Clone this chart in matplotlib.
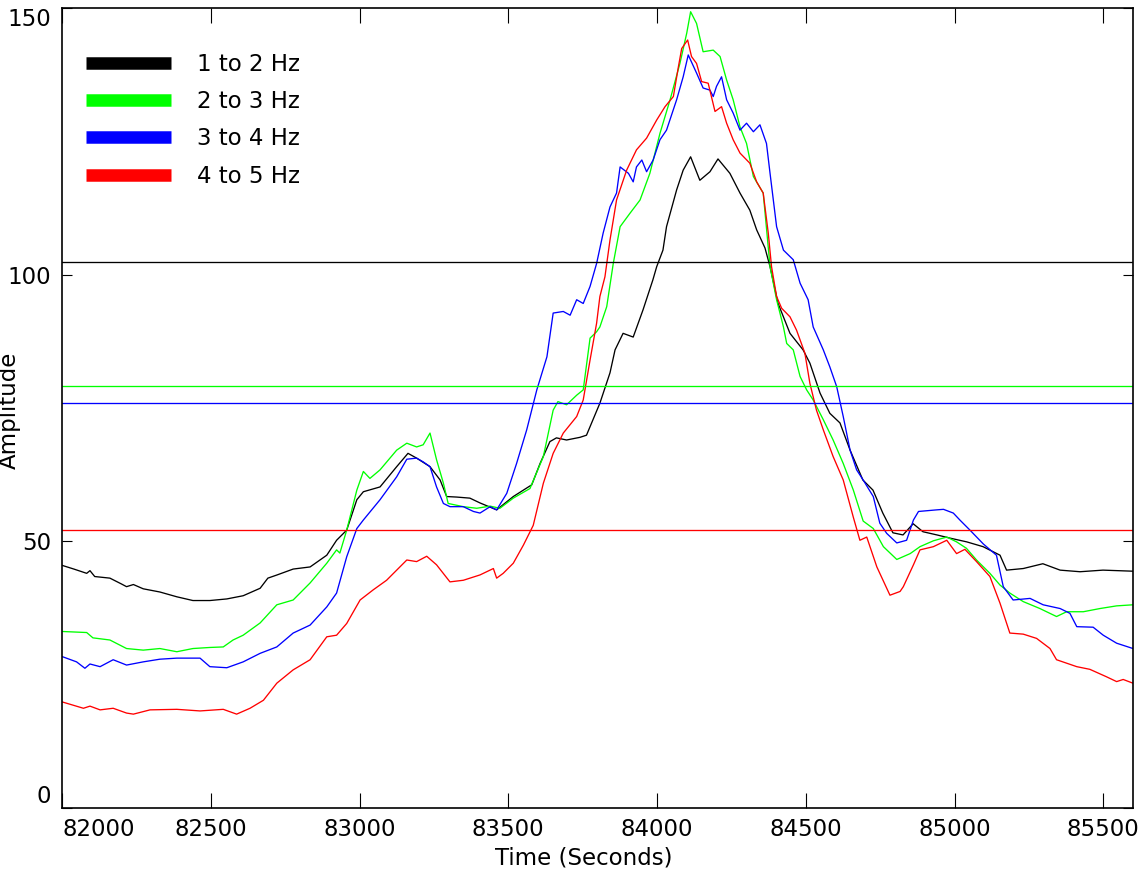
import matplotlib
matplotlib.use("Agg")
import matplotlib.pyplot as plt

# ---------------- data ----------------
t_12 = [82000, 82040, 82083, 82094, 82110, 82161, 82200, 82217, 82240, 82273, 82329, 82386, 82440, 82497,
        82554, 82609, 82666, 82692, 82723, 82777, 82834, 82890, 82923, 82957, 82991, 83013, 83069, 83125,
        83163, 83192, 83237, 83271, 83293, 83327, 83371, 83405, 83461, 83517, 83579, 83607, 83640, 83662,
        83696, 83741, 83763, 83808, 83842, 83859, 83886, 83920, 83953, 83986, 83999, 84020, 84032, 84066,
        84088, 84113, 84144, 84178, 84205, 84245, 84279, 84312, 84335, 84363, 84380, 84407, 84447, 84491,
        84514, 84548, 84581, 84615, 84649, 84692, 84726, 84759, 84793, 84827, 84861, 84894, 84941, 84985,
        85041, 85096, 85153, 85175, 85231, 85297, 85355, 85422, 85499, 85600]
a_12 = [45.5, 44.8, 44.0, 44.5, 43.4, 43.1, 42.0, 41.5, 41.9, 41.1, 40.5, 39.6, 38.9, 38.9,
        39.2, 39.8, 41.2, 43.1, 43.7, 44.8, 45.2, 47.4, 50.2, 52.1, 57.8, 59.3, 60.2, 64.0,
        66.5, 65.6, 64.0, 61.5, 58.4, 58.3, 58.1, 57.2, 55.9, 58.4, 60.6, 64.6, 68.7, 69.4,
        69.0, 69.5, 69.9, 75.9, 81.6, 85.9, 89.0, 88.3, 93.4, 99.0, 101.5, 104.6, 109.0, 115.9,
        119.6, 122.1, 117.7, 119.3, 121.7, 119.0, 115.3, 112.1, 108.4, 105.0, 101.5, 94.6, 89.0, 85.9,
        83.4, 77.8, 74.0, 72.2, 67.1, 61.5, 59.6, 55.3, 51.6, 51.2, 53.3, 51.8, 51.2, 50.6,
        49.9, 49.0, 47.4, 44.6, 44.9, 45.8, 44.6, 44.3, 44.6, 44.4]

t_23 = [82000, 82083, 82104, 82161, 82217, 82273, 82329, 82386, 82440, 82497, 82542, 82575, 82609, 82666,
        82722, 82777, 82834, 82890, 82923, 82934, 82957, 82991, 83013, 83035, 83069, 83125, 83159, 83192,
        83214, 83237, 83259, 83282, 83298, 83349, 83394, 83439, 83472, 83517, 83573, 83618, 83651, 83667,
        83696, 83730, 83752, 83775, 83797, 83808, 83831, 83853, 83876, 83909, 83943, 83976, 84010, 84044,
        84077, 84100, 84113, 84133, 84155, 84189, 84212, 84234, 84256, 84279, 84301, 84324, 84357, 84380,
        84402, 84425, 84436, 84458, 84481, 84503, 84525, 84559, 84592, 84626, 84660, 84693, 84727, 84761,
        84806, 84851, 84884, 84929, 84974, 85007, 85040, 85074, 85119, 85153, 85186, 85231, 85287, 85343,
        85377, 85433, 85489, 85545, 85600]
a_23 = [33.1, 32.9, 31.9, 31.5, 29.9, 29.6, 29.9, 29.3, 29.9, 30.1, 30.2, 31.5, 32.4, 34.7,
        38.1, 39.0, 42.2, 45.9, 48.4, 47.8, 52.1, 59.6, 63.1, 61.8, 63.4, 67.1, 68.4, 67.7,
        68.1, 70.3, 65.3, 60.9, 57.1, 56.5, 56.2, 56.6, 56.2, 58.1, 59.9, 65.9, 74.6, 76.2,
        75.6, 77.4, 78.4, 88.1, 89.3, 90.2, 94.0, 102.1, 109.0, 111.5, 114.0, 119.0, 126.5, 132.8,
        139.6, 145.3, 149.3, 147.1, 141.8, 142.1, 140.9, 136.5, 132.8, 127.7, 124.6, 118.4, 115.3, 101.5,
        95.3, 90.2, 87.1, 85.9, 80.9, 78.4, 76.5, 72.8, 69.0, 64.6, 59.6, 53.8, 52.4, 49.0,
        46.6, 47.7, 49.0, 50.1, 50.8, 49.9, 48.7, 46.5, 44.0, 41.8, 40.3, 38.7, 37.4, 35.9,
        36.8, 36.8, 37.4, 37.9, 38.1]

t_34 = [82000, 82049, 82077, 82094, 82128, 82172, 82217, 82273, 82329, 82386, 82464, 82497, 82554, 82609,
        82666, 82722, 82777, 82834, 82890, 82923, 82957, 82991, 83013, 83069, 83125, 83159, 83192, 83214,
        83237, 83259, 83282, 83304, 83349, 83383, 83405, 83439, 83461, 83495, 83528, 83562, 83596, 83630,
        83651, 83685, 83708, 83730, 83752, 83775, 83797, 83819, 83842, 83864, 83876, 83904, 83920, 83931,
        83949, 83965, 83987, 84010, 84032, 84066, 84088, 84105, 84133, 84155, 84178, 84189, 84200, 84217,
        84234, 84256, 84279, 84301, 84324, 84346, 84368, 84380, 84402, 84425, 84458, 84481, 84508, 84525,
        84559, 84581, 84604, 84626, 84649, 84671, 84693, 84727, 84749, 84772, 84806, 84839, 84862, 84879,
        84940, 84963, 84996, 85018, 85052, 85097, 85141, 85164, 85197, 85254, 85298, 85355, 85388, 85411,
        85466, 85500, 85545, 85600]
a_34 = [28.4, 27.4, 26.2, 27.0, 26.5, 27.8, 26.8, 27.4, 27.9, 28.1, 28.1, 26.5, 26.3, 27.4,
        29.0, 30.2, 32.8, 34.3, 37.7, 40.3, 47.1, 52.4, 54.0, 57.8, 62.1, 65.4, 65.6, 64.9,
        64.0, 60.2, 57.1, 56.5, 56.5, 55.6, 55.3, 56.5, 55.9, 59.0, 64.6, 70.9, 78.4, 84.6,
        92.8, 93.1, 92.4, 95.3, 94.6, 97.8, 102.1, 107.8, 112.7, 115.3, 120.2, 119.0, 117.4, 120.2,
        121.5, 119.3, 121.5, 125.3, 127.1, 132.8, 137.1, 141.2, 137.8, 135.0, 134.6, 133.4, 135.3, 137.1,
        132.8, 130.3, 127.1, 128.4, 126.8, 128.1, 124.6, 119.0, 109.0, 104.6, 102.8, 98.4, 95.3, 90.2,
        85.9, 82.7, 79.0, 73.4, 67.1, 63.4, 61.5, 58.4, 53.4, 51.5, 49.7, 50.2, 54.0, 55.6,
        55.9, 56.0, 55.3, 54.0, 52.1, 49.5, 47.4, 41.5, 39.0, 39.3, 38.1, 37.4, 36.5, 34.0,
        33.9, 32.4, 30.9, 29.9]

t_45 = [82000, 82072, 82094, 82128, 82172, 82217, 82240, 82296, 82386, 82464, 82542, 82587, 82632, 82677,
        82722, 82777, 82834, 82890, 82923, 82957, 83002, 83046, 83091, 83159, 83192, 83226, 83259, 83304,
        83349, 83405, 83450, 83461, 83483, 83517, 83551, 83584, 83618, 83651, 83685, 83730, 83752, 83775,
        83797, 83808, 83825, 83842, 83864, 83898, 83931, 83965, 83999, 84027, 84055, 84072, 84083, 84103,
        84116, 84133, 84150, 84172, 84195, 84217, 84234, 84256, 84279, 84312, 84335, 84357, 84374, 84385,
        84402, 84419, 84447, 84469, 84497, 84514, 84536, 84559, 84592, 84626, 84660, 84682, 84705, 84739,
        84783, 84817, 84828, 84862, 84884, 84929, 84974, 85007, 85035, 85074, 85119, 85153, 85186, 85231,
        85276, 85321, 85343, 85411, 85455, 85511, 85545, 85567, 85600]
a_45 = [19.9, 18.7, 19.1, 18.4, 18.7, 17.8, 17.6, 18.4, 18.5, 18.2, 18.5, 17.6, 18.7, 20.2,
        23.4, 25.9, 27.8, 32.1, 32.4, 34.6, 39.0, 40.9, 42.7, 46.5, 46.2, 47.2, 45.6, 42.4,
        42.7, 43.7, 44.9, 43.1, 44.0, 45.9, 49.3, 53.0, 60.9, 66.5, 70.3, 73.4, 76.5, 84.0,
        90.9, 95.9, 99.6, 106.5, 114.0, 119.6, 123.4, 125.6, 129.0, 131.5, 133.4, 139.0, 142.4, 144.0,
        140.9, 139.6, 136.2, 135.9, 130.6, 131.5, 128.4, 125.3, 122.8, 120.9, 117.4, 115.3, 107.8, 101.5,
        95.9, 93.7, 92.1, 89.6, 85.3, 79.6, 74.6, 70.9, 65.9, 61.5, 54.5, 50.2, 50.8, 45.2,
        39.9, 40.6, 41.5, 45.6, 48.4, 49.0, 50.2, 47.7, 48.5, 46.2, 43.4, 38.4, 32.8, 32.6,
        31.8, 29.9, 27.8, 26.5, 26.0, 24.6, 23.7, 24.1, 23.4]

labels = ["1 to 2 Hz", "2 to 3 Hz", "3 to 4 Hz", "4 to 5 Hz"]
colors = ["#000000", "#00ff00", "#0000ff", "#ff0000"]
thresholds = [102.4, 79.1, 75.9, 52.1]

x_ticks = [82000, 82500, 83000, 83500, 84000, 84500, 85000, 85500]
y_ticks = [0, 50, 100, 150]

# ---------------- plot ----------------
FS = 16.5
plt.rcParams['font.family'] = ['DejaVu Sans']
fig = plt.figure(figsize=(11.42, 8.71), dpi=100)
ax = fig.add_axes([62/1142, 1 - 808/871, (1133-62)/1142, 800/871])

series = [(t_12, a_12), (t_23, a_23), (t_34, a_34), (t_45, a_45)]
for (t, a), lab, c in zip(series, labels, colors):
    ax.plot(t, a, color=c, lw=0.95, label=lab)
for thr, c in zip(thresholds, colors):
    ax.axhline(thr, color=c, lw=0.95)

ax.set_xlim(82000, 85600)
ax.set_ylim(0, 150)
ax.set_xticks(x_ticks)
ax.set_yticks(y_ticks)
ax.set_xticklabels([str(v) for v in x_ticks])
ax.set_yticklabels([str(v) for v in y_ticks])
ax.tick_params(axis='x', direction='in', length=11, width=0.8, top=True, bottom=True,
               labelsize=FS, pad=7)
ax.tick_params(axis='y', direction='in', length=7, width=0.8, left=True, right=True,
               labelsize=FS, pad=8)
for s in ax.spines.values():
    s.set_linewidth(1.2)

xl = ax.get_xticklabels()
xl[0].set_horizontalalignment('left')
yl = ax.get_yticklabels()
yl[0].set_verticalalignment('bottom')
yl[-1].set_verticalalignment('top')

ax.set_xlabel("Time (Seconds)", fontsize=FS)
ax.set_ylabel("Amplitude", fontsize=FS)
ax.xaxis.set_label_coords((584-62)/1071, (808-846)/800)
ax.yaxis.set_label_coords((21-62)/1071, 0.4975)

leg = ax.legend(loc='upper left', bbox_to_anchor=(0.0, 1 - 21/800), frameon=False,
                fontsize=FS, handlelength=3.7, handletextpad=1.15,
                labelspacing=0.62, borderaxespad=0.0,
                borderpad=1.05)
for h in leg.get_lines():
    h.set_linewidth(9)
    h.set_solid_capstyle('butt')

fig.savefig("out.png", dpi=100)
